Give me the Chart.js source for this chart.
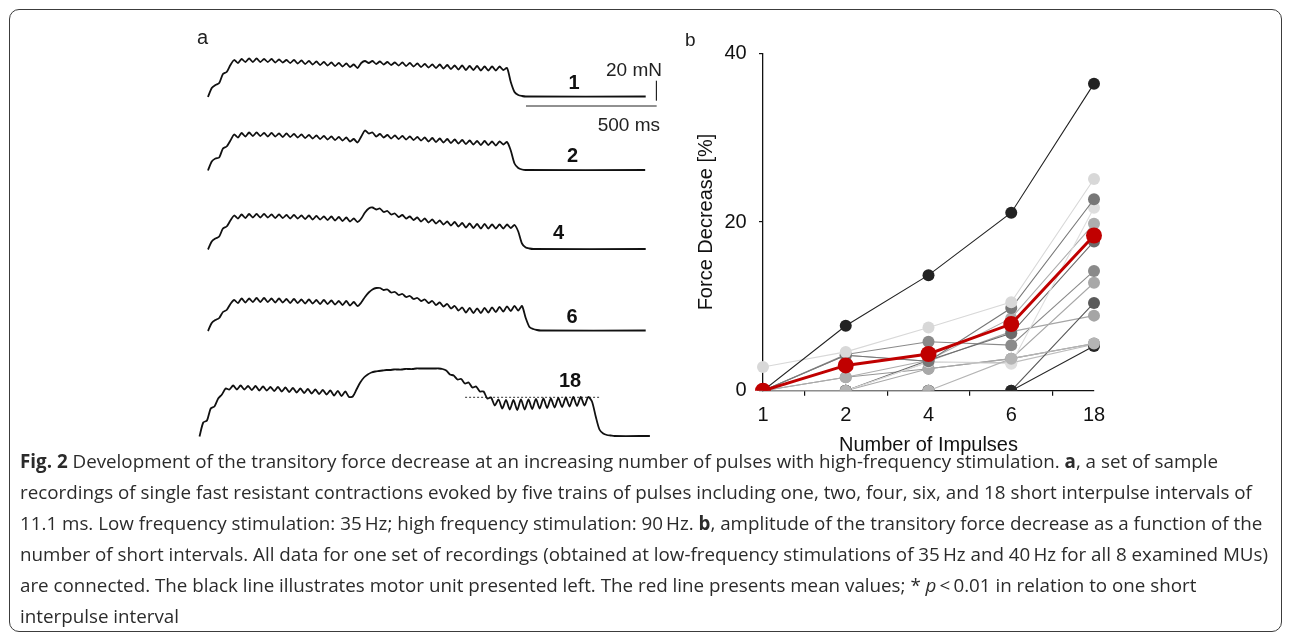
<!DOCTYPE html>
<html>
<head>
<meta charset="utf-8">
<script src="https://cdn.jsdelivr.net/npm/chart.js@4.4.1/dist/chart.umd.min.js"></script>
<style>
  html, body { margin: 0; padding: 0; background: #fff; }
  body { width: 1290px; height: 634px; position: relative; overflow: hidden;
         font-family: "Liberation Sans", Arial, sans-serif; color: #1a1a1a; }
  .frame { position: absolute; left: 9px; top: 9px; width: 1273px; height: 623px;
           border: 1.3px solid #3c3c3c; border-radius: 10px; box-sizing: border-box; }
  #traces { position: absolute; left: 196px; top: 30px; }
  #summary { position: absolute; left: 680px; top: 28px; }
  .caption { position: absolute; left: 20px; top: 446px; font-family: "Open Sans", sans-serif;
             font-size: 18.8px; line-height: 31px; color: #2b2b2b; white-space: nowrap; }
</style>
</head>
<body>
<div class="frame"></div>
<canvas id="traces" width="480" height="420"></canvas>
<canvas id="summary" width="440" height="437"></canvas>
<div class="caption">
<b>Fig. 2</b> Development of the transitory force decrease at an increasing number of pulses with high-frequency stimulation. <b>a</b>, a set of sample<br>
recordings of single fast resistant contractions evoked by five trains of pulses including one, two, four, six, and 18 short interpulse intervals of<br>
11.1 ms. Low frequency stimulation: 35&thinsp;Hz; high frequency stimulation: 90&thinsp;Hz. <b>b</b>, amplitude of the transitory force decrease as a function of the<br>
number of short intervals. All data for one set of recordings (obtained at low-frequency stimulations of 35&thinsp;Hz and 40&thinsp;Hz for all 8 examined MUs)<br>
are connected. The black line illustrates motor unit presented left. The red line presents mean values; * <i>p</i>&thinsp;&lt;&thinsp;0.01 in relation to one short<br>
interpulse interval
</div>
<script>
// ---------- panel a: force recordings (mN), sampled every half 35 Hz period ----------
const STEP_MS = 14.3;
const traceLabels = ['1', '2', '4', '6', '18'];
const traceStartMs = [32.5, 32.5, 32.5, 32.5, 0];
const traceEndMs = [1707, 1705, 1707, 1707, 1723];

const trace1 = [0, 9, 12, 14, 23, 25, 32, 37, 34, 38, 35, 38.5, 35, 38.5, 35, 38, 35, 38, 34.5, 37.5,
  34.5, 37, 34, 37, 33.5, 36.5, 33, 36, 32.5, 35.5, 32, 35, 31.5, 34.5, 31, 34, 30.5, 33.5, 30, 32.5,
  29, 34, 36, 34, 36, 33, 35.5, 32.5, 35, 32, 34.5, 31.5, 34.5, 31, 34, 30.5, 33.5, 30, 33, 29.5,
  32.5, 29, 32.5, 28.5, 32, 28, 31.5, 27.5, 31.5, 27, 31, 27, 31, 26.5, 30.5, 26.5, 30.5, 26.5, 30.5, 27,
  29, 15, 5, 2, 1, 0.5];
const trace2 = [0, 9, 12, 13, 22, 24, 30, 36, 33, 37.5, 34, 38, 34.5, 38, 34.5, 37.5, 34, 37.5, 34, 37,
  33.5, 37, 33.5, 36.5, 33, 36, 32.5, 35.5, 32, 35, 31.5, 34.5, 31, 34, 30.5, 33.5, 30, 33, 29, 31.5,
  28, 34, 40, 37, 38, 34, 36.5, 33, 35.5, 32, 35, 31.5, 34.5, 31, 34, 30.5, 33.5, 30, 33, 29,
  32.5, 28.5, 32, 28, 31.5, 27.5, 31, 27, 30.5, 26.5, 30, 26, 29.5, 25.5, 29.5, 25.5, 29, 25, 29, 26,
  28.5, 20, 7, 2.5, 1, 0.5];
const trace4 = [0, 8, 11, 13, 21, 23, 29, 34, 31, 35, 31.5, 35.5, 32, 35.5, 32, 35.5, 32, 35, 31.5, 35,
  31.5, 34.5, 31, 34.5, 31, 34, 30.5, 34, 30, 33.5, 30, 33, 29.5, 33, 29, 32.5, 28.5, 32, 28, 31,
  27.5, 31, 37, 41, 42, 40, 41, 37.5, 38.5, 35, 36, 32.5, 34.5, 31, 33, 29.5, 32, 28, 31, 27,
  30, 26, 29, 25, 28, 24, 27.5, 23, 26.5, 22, 26, 21.5, 25.5, 21, 25.5, 21, 25, 21, 25, 21,
  25, 21.5, 24.5, 18, 6, 2, 1, 0.5];
const trace6 = [0, 8, 11, 13, 19, 21, 27, 31, 28, 32.5, 28.5, 32.5, 29, 33, 29, 33, 29, 32.5, 28.5, 32.5,
  28.5, 32, 28, 32, 28, 31.5, 27.5, 31.5, 27.5, 31, 27, 31, 27, 30.5, 26.5, 30, 26, 30, 25.5, 29,
  25, 28.5, 34, 38.5, 41.5, 43, 43, 41, 41.5, 38.5, 39, 36, 37, 34, 35, 32, 33, 30, 31.5, 28,
  30, 26, 28.5, 24.5, 27, 22.5, 25, 20.5, 23.5, 18.5, 23, 18, 22.5, 18, 23, 18.5, 23.5, 19, 24, 19.5,
  24.5, 20, 25, 20.5, 25, 13, 4, 2, 1, 0.5];
const trace18 = [0, 14, 16, 28, 30, 38, 42, 48, 47, 51, 47, 51, 47, 50.5, 46.5, 50.5, 46, 50, 46, 49.5,
  45.5, 49.5, 45, 49, 44.5, 48.5, 44, 48, 43.5, 47.5, 43, 47, 42.5, 46.5, 42, 46, 41, 45.5, 40.5, 45,
  39.5, 40, 47, 54, 59, 62, 64, 65, 65.5, 66, 66.5, 66.5, 67, 67, 67, 67.5, 67.5, 67.5, 68, 68,
  68, 68, 68, 68, 68, 67.5, 66, 62, 61, 57, 57.5, 53, 54, 49, 50, 45, 45, 38, 39, 31,
  37, 28, 36.5, 27, 36.5, 26.5, 37, 27, 37, 27.5, 37.5, 28, 38, 28.5, 38, 29, 38.5, 29.5, 39, 30,
  39.5, 30.5, 39.5, 31, 39.5, 35, 20, 7, 3, 1.5, 1, 0.5];
const traces = [trace1, trace2, trace4, trace6, trace18];

// transitory decrease reference level on the 18-interval trace
const level18Mn = 39.2;
const level18Ms = [1016, 1532];
// calibration bars
const scaleBarMs = 500;
const scaleBarMn = 20;

// ---------- panel b: force decrease [%] ----------
const impulses = ['1', '2', '4', '6', '18'];
const meanDecrease = [0, 3.0, 4.35, 7.9, 18.4];
const muBlack = [0, 7.7, 13.7, 21.1, 36.4];
const mu2 = [2.8, 4.6, 7.5, 10.5, 25.1];
const mu3 = [0, 4.2, 3.5, 9.8, 22.7];
const mu4 = [0, 0, 3.4, 3.2, 21.7];
const mu5 = [0, 1.6, 3.6, 8.6, 19.8];
const mu6 = [0, 0, 3.6, 6.8, 17.7];
const mu7 = [0, 4.3, 5.8, 5.4, 14.2];
const mu8 = [0, 0, 2.6, 3.8, 12.8];
const mu9 = [0, 0, 0, 0, 10.4];
const mu10 = [0, 4.2, 3.5, 7.0, 8.9];
const mu11 = [0, 1.6, 2.6, 3.8, 5.6];
const mu12 = [0, 0, 3.4, 3.3, 5.5];
const mu13 = [0, 0, 0, 0, 5.3];
const mu14 = [0, 0, 0, 3.8, 5.6];
const yTicks = [0, 20, 40];

// ---------- layout (pixels) ----------
const TR_LEFT = 196, TR_TOP = 30, TR_H = 420;
const TR_BASE = [97, 170.5, 249.5, 331, 436.5];   // page y of each trace's zero force
const MS_PER_PX = 3.8256;
const T0_PX = 199.5;
const FONT = '"Liberation Sans", Arial, sans-serif';

const traceDatasets = traces.map((arr, i) => {
  const pts = arr.map((v, k) => ({ x: traceStartMs[i] + k * STEP_MS, y: v }));
  pts.push({ x: traceEndMs[i], y: arr[arr.length - 1] });
  return { data: pts, yAxisID: 'y' + i, borderColor: '#111', borderWidth: 1.8,
           pointRadius: 0, tension: 0.25, fill: false };
});
// calibration bars (attached to first trace axis)
const barX = 1249, barY = -9;
traceDatasets.push({ data: [{ x: barX, y: barY }, { x: barX + scaleBarMs, y: barY }],
  yAxisID: 'y0', borderColor: '#222', borderWidth: 1, pointRadius: 0 });
traceDatasets.push({ data: [{ x: barX + scaleBarMs - 1, y: -3.7 }, { x: barX + scaleBarMs - 1, y: -3.7 + scaleBarMn }],
  yAxisID: 'y0', borderColor: '#222', borderWidth: 1.2, pointRadius: 0 });
traceDatasets.push({ data: [{ x: level18Ms[0], y: level18Mn }, { x: level18Ms[1], y: level18Mn }],
  yAxisID: 'y4', borderColor: '#333', borderWidth: 1, borderDash: [2, 2], pointRadius: 0 });

const traceScales = {
  x: { type: 'linear', display: false,
       min: (TR_LEFT - T0_PX) * MS_PER_PX, max: (TR_LEFT + 480 - T0_PX) * MS_PER_PX }
};
TR_BASE.forEach((b, i) => {
  traceScales['y' + i] = { type: 'linear', display: false, min: b - (TR_TOP + TR_H), max: b - TR_TOP };
});

const traceText = {
  id: 'traceText',
  afterDatasetsDraw(chart) {
    const ctx = chart.ctx;
    ctx.save();
    ctx.fillStyle = '#111';
    ctx.textBaseline = 'alphabetic';
    ctx.textAlign = 'center';
    ctx.font = 'bold 20px ' + FONT;
    const lab = [[574, 89], [572.5, 161.7], [558.5, 239], [572, 322.7], [570, 386.7]];
    traceLabels.forEach((t, i) => ctx.fillText(t, lab[i][0] - TR_LEFT, lab[i][1] - TR_TOP));
    ctx.font = '19px ' + FONT;
    ctx.fillStyle = '#222';
    ctx.textAlign = 'right';
    ctx.fillText(scaleBarMn + ' mN', 662 - TR_LEFT, 76 - TR_TOP);
    ctx.fillText(scaleBarMs + ' ms', 660 - TR_LEFT, 130.7 - TR_TOP);
    ctx.textAlign = 'left';
    ctx.font = '20px ' + FONT;
    ctx.fillText('a', 197 - TR_LEFT, 43.5 - TR_TOP);
    ctx.restore();
  }
};

new Chart(document.getElementById('traces'), {
  type: 'line',
  data: { datasets: traceDatasets },
  options: {
    responsive: false, animation: false, events: [],
    layout: { padding: 0 },
    plugins: { legend: { display: false }, tooltip: { enabled: false } },
    scales: traceScales
  },
  plugins: [traceText]
});

// ---------- panel b chart ----------
const grayRuns = [
  [mu14, '#b4b4b4'], [muBlack, '#222222'], [mu13, '#262626'], [mu2, '#d8d8d8'], [mu3, '#777777'],
  [mu4, '#dedede'], [mu5, '#adadad'], [mu6, '#6b6b6b'], [mu7, '#8a8a8a'], [mu8, '#a8a8a8'],
  [mu9, '#5a5a5a'], [mu10, '#a5a5a5'], [mu11, '#969696'], [mu12, '#bdbdbd']
];
const sumDatasets = [{
  data: meanDecrease, borderColor: '#c00000', backgroundColor: '#c00000', borderWidth: 3,
  pointRadius: 8, pointBorderWidth: 0, pointBackgroundColor: '#c00000', order: 0
}];
grayRuns.forEach(([vals, col], i) => sumDatasets.push({
  data: vals, borderColor: col, borderWidth: 1.1, pointRadius: 6, pointBorderWidth: 0,
  pointBackgroundColor: col, order: i + 1
}));

const SUM_LEFT = 680, SUM_TOP = 28;
const panelB = {
  id: 'panelB',
  afterDraw(chart) {
    const ctx = chart.ctx;
    ctx.save();
    ctx.fillStyle = '#222';
    ctx.font = '19px ' + FONT;
    ctx.textAlign = 'left';
    ctx.textBaseline = 'alphabetic';
    ctx.fillText('b', 685 - SUM_LEFT, 46 - SUM_TOP);
    ctx.restore();
  }
};

new Chart(document.getElementById('summary'), {
  type: 'line',
  data: { labels: impulses, datasets: sumDatasets },
  options: {
    responsive: false, animation: false, events: [],
    layout: { padding: { top: 53.3 - SUM_TOP, right: 26, left: 14.7, bottom: 8 } },
    plugins: { legend: { display: false }, tooltip: { enabled: false } },
    scales: {
      x: {
        type: 'category', offset: false,
        grid: { display: true, drawOnChartArea: false, offset: true, tickLength: 5, color: '#111', lineWidth: 1.2 },
        border: { display: true, color: '#111', width: 1.3 },
        ticks: { color: '#111', font: { family: FONT, size: 20 }, padding: 8, maxRotation: 0 },
        title: { display: true, text: 'Number of Impulses', color: '#111',
                 font: { family: FONT, size: 20 }, padding: 0 },
        afterFit: s => { s.height = 66.3; }
      },
      y: {
        min: 0, max: 40,
        afterBuildTicks: s => { s.ticks = yTicks.map(v => ({ value: v })); },
        grid: { display: true, drawOnChartArea: false, tickLength: 4, color: '#111', lineWidth: 1.2 },
        border: { display: true, color: '#111', width: 1.3 },
        ticks: { color: '#111', font: { family: FONT, size: 20 }, padding: 12.3 },
        title: { display: true, text: 'Force Decrease [%]', color: '#111',
                 font: { family: FONT, size: 20 }, padding: 0 },
        afterFit: s => { s.width = 68.3; }
      }
    }
  },
  plugins: [panelB]
});
</script>
</body>
</html>
